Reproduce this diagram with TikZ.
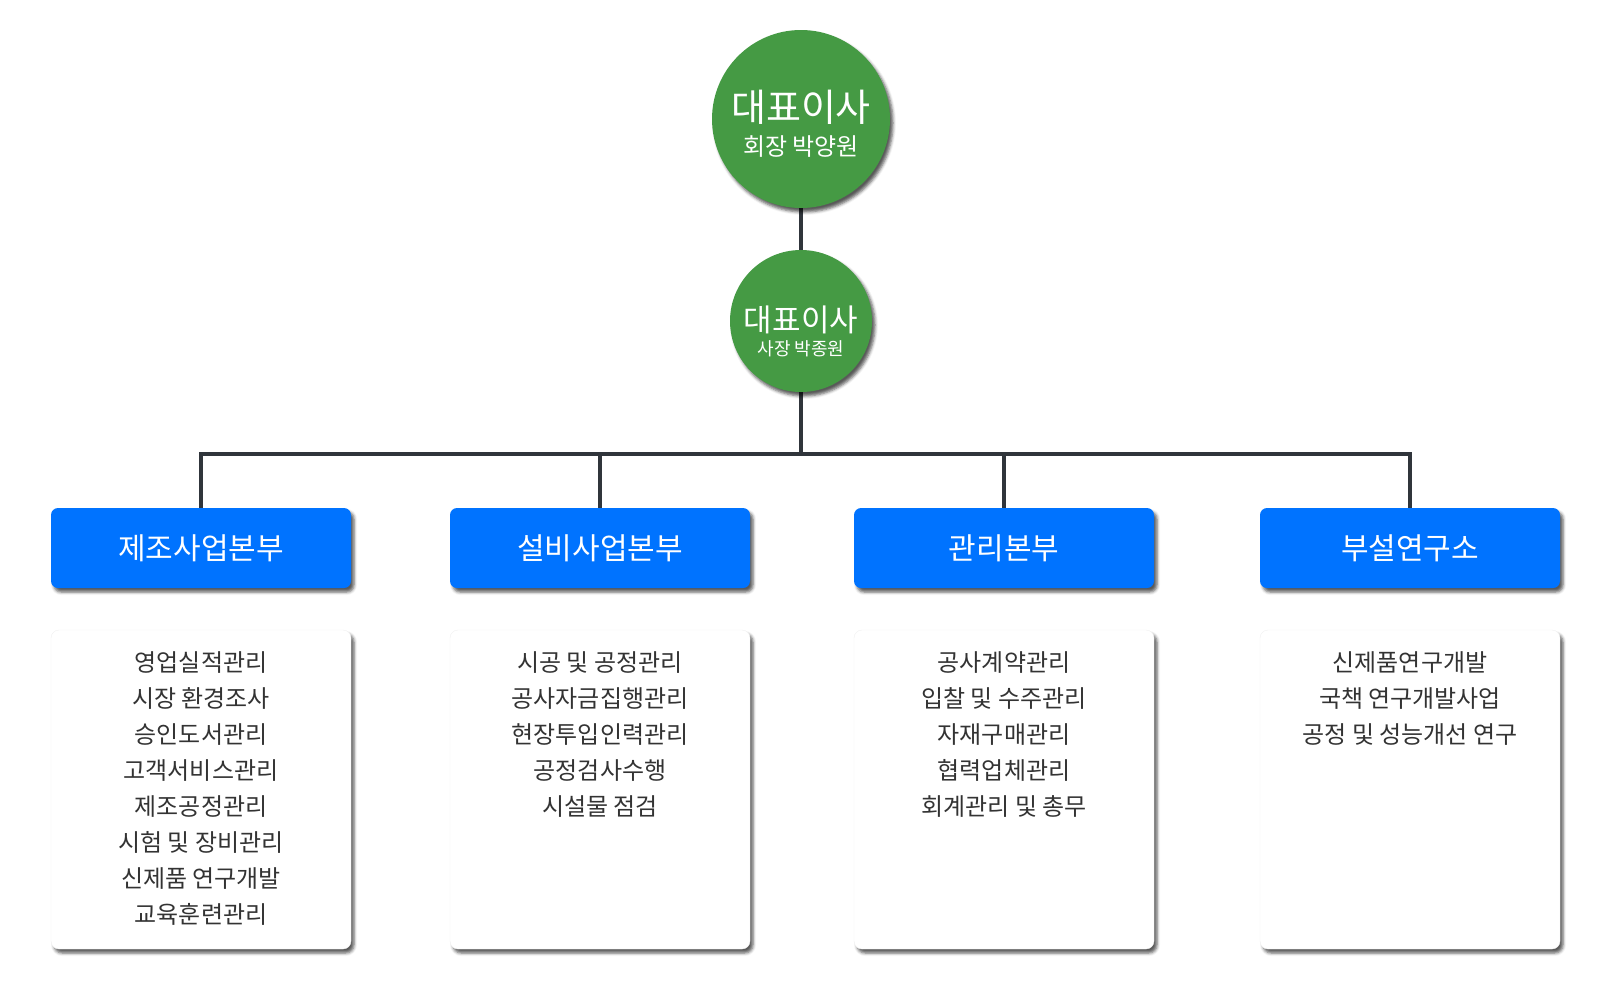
\documentclass[tikz,border=0pt]{standalone}
\usepackage{fontspec}
\setmainfont{Noto Sans CJK KR}
\usepackage{tikz}
\usetikzlibrary{calc,shadows.blur}
\definecolor{ceogreen}{HTML}{459A44}
\definecolor{deptblue}{HTML}{0073FF}
\definecolor{wire}{HTML}{30353B}
\definecolor{listgray}{HTML}{333333}
\tikzset{
  shade/.style={blur shadow={shadow xshift=3pt,shadow yshift=-4pt,shadow blur radius=3pt,shadow opacity=65}},
  boss/.style={circle,fill=ceogreen,inner sep=0pt,shade},
  bosstext/.style={text=white,inner sep=0pt},
  dept/.style={rounded corners=7pt,fill=deptblue,text=white,minimum width=300pt,minimum height=80pt,
    font=\fontsize{30}{36}\selectfont,shade},
  listbox/.style={rounded corners=8pt,fill=white,draw=black!6,minimum width=300pt,minimum height=319pt,shade},
  listtext/.style={text=listgray,align=center,inner sep=0pt,font=\fontsize{24}{36}\selectfont}
}

\begin{document}
\begin{tikzpicture}[x=1pt,y=-1pt]
        \useasboundingbox (0,0) rectangle (1600,980);
        % lines first, boxes on top
        \coordinate (bus) at (801,454);
        \draw[wire,line width=3.5pt] (801,119) -- (801,321) -- (bus);
        \draw[wire,line width=3.5pt] (bus) -| (201,508);
        \draw[wire,line width=3.5pt] (bus) -| (1410,508);
        \draw[wire,line width=3.5pt] (600,454) -- (600,508);
        \draw[wire,line width=3.5pt] (1004,454) -- (1004,508);
        % top
        \node[boss,minimum size=178pt] (ceo) at (801,119) {};
        \node[bosstext,font=\fontsize{38}{44}\selectfont] (ceotitle) at (801,107) {대표이사};
        \node[bosstext,font=\fontsize{24}{28}\selectfont] (ceoname) at (801,147) {회장 박양원};
        \node[boss,minimum size=142pt] (pres) at (801,321) {};
        \node[bosstext,font=\fontsize{31}{36}\selectfont] (prestitle) at (801,320) {대표이사};
        \node[bosstext,font=\fontsize{18}{22}\selectfont] (presname) at (801,349) {사장 박종원};
        % departments
        \node[dept] (mfg) at (201,548) {제조사업본부};
        \node[dept] (fac) at (600,548) {설비사업본부};
        \node[dept] (adm) at (1004,548) {관리본부};
        \node[dept] (lab) at (1410,548) {부설연구소};
        \node[listbox] (mfgl) at (201,789.5) {};
        \node[listbox] (facl) at (600,789.5) {};
        \node[listbox] (adml) at (1004,789.5) {};
        \node[listbox] (labl) at (1410,789.5) {};
        \node[listtext,anchor=north] (mfgt) at ([yshift=-22pt]mfgl.north) {영업실적관리\\시장 환경조사\\승인도서관리\\고객서비스관리\\제조공정관리\\시험 및 장비관리\\신제품 연구개발\\교육훈련관리};
        \node[listtext,anchor=north] (fact) at ([yshift=-22pt]facl.north) {시공 및 공정관리\\공사자금집행관리\\현장투입인력관리\\공정검사수행\\시설물 점검};
        \node[listtext,anchor=north] (admt) at ([yshift=-22pt]adml.north) {공사계약관리\\입찰 및 수주관리\\자재구매관리\\협력업체관리\\회계관리 및 총무};
        \node[listtext,anchor=north] (labt) at ([yshift=-22pt]labl.north) {신제품연구개발\\국책 연구개발사업\\공정 및 성능개선 연구};
      \end{tikzpicture}
\end{document}
